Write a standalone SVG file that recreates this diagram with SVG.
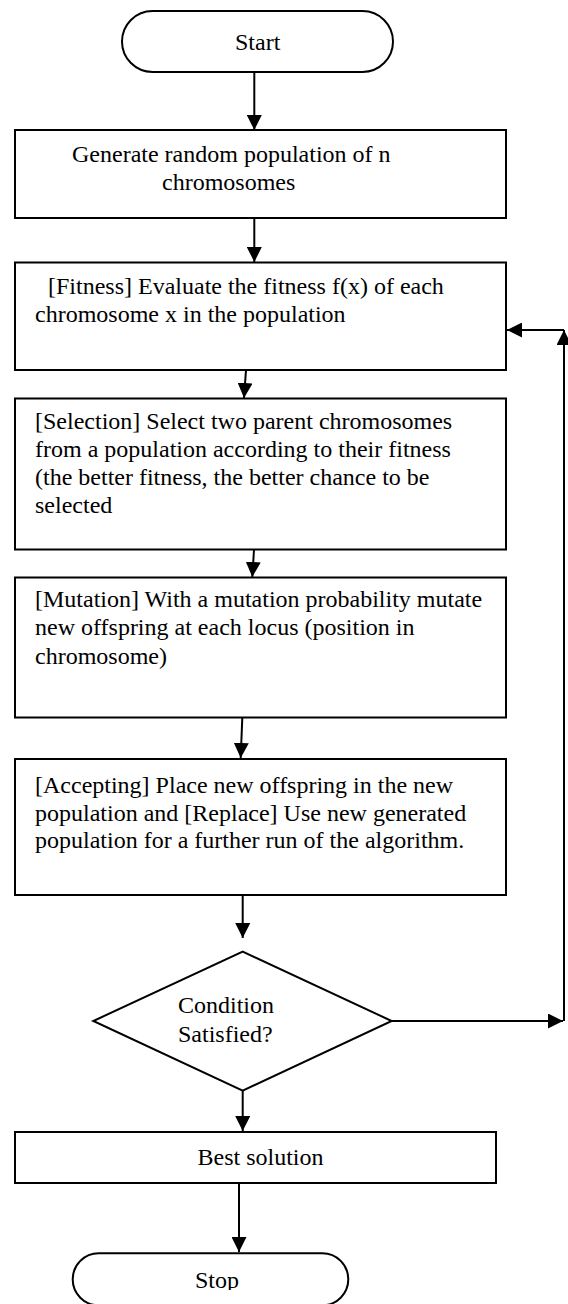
<svg xmlns="http://www.w3.org/2000/svg" width="568" height="1304" viewBox="0 0 568 1304">
<style>
.box{fill:#fff;stroke:#000;stroke-width:2}
.c{fill:none;stroke:#000;stroke-width:2}
text{font-family:'Liberation Serif',serif;font-size:24px;fill:#000}
</style>
<defs>
<marker id="ah" markerUnits="userSpaceOnUse" markerWidth="15" markerHeight="15" refX="15" refY="7.5" orient="auto">
<path d="M0,0 L15,7.5 L0,15 z" fill="#000"/>
</marker>
<clipPath id="stopclip"><rect x="0" y="1240" width="568" height="50"/></clipPath>
</defs>
<rect width="568" height="1304" fill="#fff"/>
<g id="start">
<rect class="box" x="122" y="11" width="271" height="61" rx="30.5" ry="30.5"/>
<text x="235" y="50" font-family="Liberation Serif, serif">Start</text>
</g>
<g id="generate">
<rect class="box" x="15" y="130" width="491" height="88"/>
<text x="72" y="162" font-family="Liberation Serif, serif">Generate random population of n</text>
<text x="162" y="190" font-family="Liberation Serif, serif">chromosomes</text>
</g>
<g id="fitness">
<rect class="box" x="15" y="262.5" width="491" height="107.5"/>
<text x="48" y="293.5" font-family="Liberation Serif, serif">[Fitness] Evaluate the fitness f(x) of each</text>
<text x="35" y="321.5" font-family="Liberation Serif, serif">chromosome x in the population</text>
</g>
<g id="selection">
<rect class="box" x="15" y="398.5" width="491" height="151"/>
<text x="35" y="429" font-family="Liberation Serif, serif">[Selection] Select two parent chromosomes</text>
<text x="35" y="457" font-family="Liberation Serif, serif">from a population according to their fitness</text>
<text x="35" y="485" font-family="Liberation Serif, serif">(the better fitness, the better chance to be</text>
<text x="35" y="513" font-family="Liberation Serif, serif">selected</text>
</g>
<g id="mutation">
<rect class="box" x="15" y="577.5" width="491" height="140"/>
<text x="35" y="607" font-family="Liberation Serif, serif">[Mutation] With a mutation probability mutate</text>
<text x="35" y="635" font-family="Liberation Serif, serif">new offspring at each locus (position in</text>
<text x="35" y="664" font-family="Liberation Serif, serif">chromosome)</text>
</g>
<g id="accepting">
<rect class="box" x="15" y="759" width="491" height="136"/>
<text x="35" y="792.5" font-family="Liberation Serif, serif">[Accepting] Place new offspring in the new</text>
<text x="35" y="820.5" font-family="Liberation Serif, serif">population and [Replace] Use new generated</text>
<text x="35" y="848" font-family="Liberation Serif, serif">population for a further run of the algorithm.</text>
</g>
<g id="condition">
<polygon class="box" points="242.7,951.7 391.7,1021 242.7,1090.7 93.3,1021"/>
<text x="178" y="1013" font-family="Liberation Serif, serif">Condition</text>
<text x="178" y="1041.5" font-family="Liberation Serif, serif">Satisfied?</text>
</g>
<g id="best">
<rect class="box" x="15" y="1132" width="481" height="51"/>
<text x="197.5" y="1165" font-family="Liberation Serif, serif">Best solution</text>
</g>
<g id="stop">
<rect class="box" x="72.7" y="1253.3" width="275.6" height="52" rx="26" ry="26"/>
<text x="195" y="1288" clip-path="url(#stopclip)" font-family="Liberation Serif, serif">Stop</text>
</g>
<g id="connectors">
<line class="c" x1="254.3" y1="72" x2="254.3" y2="130" marker-end="url(#ah)"/>
<line class="c" x1="254.3" y1="218" x2="254.3" y2="262" marker-end="url(#ah)"/>
<line class="c" x1="246" y1="370" x2="244" y2="398" marker-end="url(#ah)"/>
<line class="c" x1="254" y1="549.5" x2="252.3" y2="577" marker-end="url(#ah)"/>
<line class="c" x1="242.3" y1="717.5" x2="240.7" y2="758" marker-end="url(#ah)"/>
<line class="c" x1="242.7" y1="895" x2="242.7" y2="938" marker-end="url(#ah)"/>
<line class="c" x1="242.7" y1="1090.7" x2="242.7" y2="1131" marker-end="url(#ah)"/>
<line class="c" x1="239" y1="1183" x2="239" y2="1252" marker-end="url(#ah)"/>
<line class="c" x1="391.7" y1="1021" x2="563" y2="1021" marker-end="url(#ah)"/>
<line class="c" x1="564" y1="1021" x2="564" y2="330" marker-end="url(#ah)"/>
<line class="c" x1="564" y1="330" x2="507" y2="330" marker-end="url(#ah)"/>
</g>
</svg>
